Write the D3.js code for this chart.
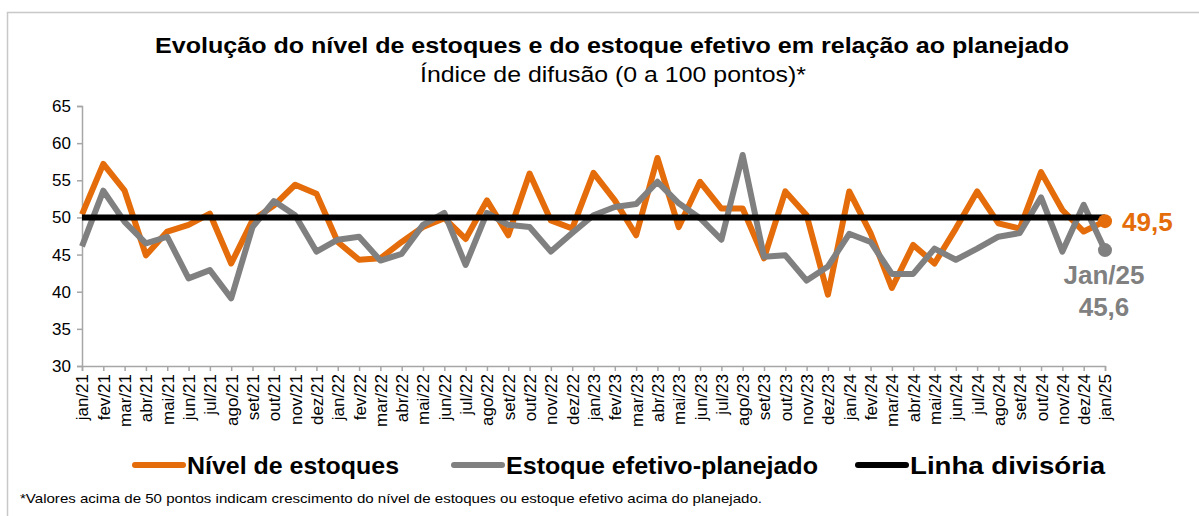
<!DOCTYPE html>
<html>
<head>
<meta charset="utf-8">
<script src="https://cdn.jsdelivr.net/npm/d3@7"></script>
<style>
  body { margin: 0; background: #fff; }
  svg text { font-family: "Liberation Sans", Arial, sans-serif; }
</style>
</head>
<body>
<div id="chart"></div>
<script>
// months, jan/21 .. jan/25
var months = ["jan/21","fev/21","mar/21","abr/21","mai/21","jun/21","jul/21","ago/21","set/21","out/21","nov/21","dez/21",
  "jan/22","fev/22","mar/22","abr/22","mai/22","jun/22","jul/22","ago/22","set/22","out/22","nov/22","dez/22",
  "jan/23","fev/23","mar/23","abr/23","mai/23","jun/23","jul/23","ago/23","set/23","out/23","nov/23","dez/23",
  "jan/24","fev/24","mar/24","abr/24","mai/24","jun/24","jul/24","ago/24","set/24","out/24","nov/24","dez/24",
  "jan/25"];

// Nivel de estoques
var nivel = [50.4, 57.2, 53.6, 44.9, 48.1, 49.0, 50.5, 43.8, 49.6, 51.6, 54.4, 53.2,
  46.7, 44.3, 44.5, 46.7, 48.7, 49.9, 47.1, 52.3, 47.6, 55.9, 49.6, 48.5,
  56.0, 52.3, 47.6, 58.0, 48.7, 54.8, 51.2, 51.2, 44.5, 53.5, 50.3, 39.6,
  53.5, 47.9, 40.5, 46.3, 43.8, 48.5, 53.5, 49.2, 48.5, 56.1, 51.0, 48.1,
  49.5];

// Estoque efetivo-planejado
var efetivo = [46.1, 53.6, 49.4, 46.5, 47.4, 41.8, 42.9, 39.1, 48.7, 52.2, 50.3, 45.4,
  47.0, 47.4, 44.2, 45.1, 49.0, 50.6, 43.6, 50.6, 49.0, 48.7, 45.4, 47.9,
  50.3, 51.4, 51.8, 54.8, 51.9, 49.9, 47.0, 58.4, 44.7, 44.9, 41.5, 43.4,
  47.8, 46.7, 42.4, 42.4, 45.8, 44.3, 45.8, 47.4, 47.9, 52.7, 45.4, 51.7,
  45.6];

var divisoria = 50;
var yTicks = [30, 35, 40, 45, 50, 55, 60, 65];

var W = 1199, H = 516;
var margin = {top: 106, right: 94, bottom: 150, left: 82},
    width = W - margin.left - margin.right,
    height = H - margin.top - margin.bottom;

var svg = d3.select("#chart").append("svg")
    .attr("width", W)
    .attr("height", H);

// outer frame
svg.append("rect")
    .attr("x", 7.5).attr("y", 12.5)
    .attr("width", W).attr("height", H)
    .attr("fill", "none")
    .attr("stroke", "#c8c8c8")
    .attr("stroke-width", 1.5);

// titles
svg.append("text")
    .attr("x", 155).attr("y", 53)
    .style("font-weight", "bold").style("font-size", "22px")
    .attr("textLength", 914).attr("lengthAdjust", "spacingAndGlyphs")
    .text("Evolução do nível de estoques e do estoque efetivo em relação ao planejado");
svg.append("text")
    .attr("x", 420).attr("y", 82)
    .style("font-size", "22px")
    .attr("textLength", 386).attr("lengthAdjust", "spacingAndGlyphs")
    .text("Índice de difusão (0 a 100 pontos)*");

var g = svg.append("g")
    .attr("transform", "translate(" + margin.left + "," + margin.top + ")");

// scales
var x = d3.scalePoint().domain(months).range([0, width]);
var y = d3.scaleLinear().domain([30, 65]).range([height, 0]);

// axes
var yAxis = g.append("g")
    .call(d3.axisLeft(y).tickValues(yTicks).tickSize(5).tickPadding(6));
yAxis.selectAll("text").style("font-size", "17px").attr("fill", "#000");

var xAxis = g.append("g")
    .attr("transform", "translate(0," + height + ")")
    .call(d3.axisBottom(x).tickSize(5).tickPadding(4));
xAxis.selectAll("text")
    .style("font-size", "17px").attr("fill", "#000")
    .attr("text-anchor", "end")
    .attr("dy", "0.35em")
    .attr("transform", "rotate(-90)")
    .attr("x", -8).attr("y", 0);

g.selectAll(".domain, .tick line").attr("stroke", "#a6a6a6").attr("stroke-width", 1.5);

// lines
var line = function(vals) {
  return d3.line()
    .x(function(d, i) { return x(months[i]); })
    .y(function(d) { return y(d); })(vals);
};

g.append("path")
    .attr("d", line(nivel))
    .attr("fill", "none").attr("stroke", "#e46c0a")
    .attr("stroke-width", 6).attr("stroke-linejoin", "round");

g.append("path")
    .attr("d", line(efetivo))
    .attr("fill", "none").attr("stroke", "#808080")
    .attr("stroke-width", 6).attr("stroke-linejoin", "round");

g.append("path")
    .attr("d", line(months.map(function() { return divisoria; })))
    .attr("fill", "none").attr("stroke", "#000")
    .attr("stroke-width", 6);

// end markers
var last = months.length - 1;
g.append("circle")
    .attr("cx", x(months[last])).attr("cy", y(nivel[last]))
    .attr("r", 7).attr("fill", "#e46c0a");
g.append("circle")
    .attr("cx", x(months[last])).attr("cy", y(efetivo[last]))
    .attr("r", 7).attr("fill", "#808080");

var fmt = function(v) { return d3.format(".1f")(v).replace(".", ","); };

g.append("text")
    .attr("x", x(months[last]) + 17).attr("y", y(nivel[last]) + 10)
    .attr("fill", "#e46c0a")
    .style("font-weight", "bold").style("font-size", "26px")
    .text(fmt(nivel[last]));
g.append("text")
    .attr("x", x(months[last]) - 1).attr("y", y(efetivo[last]) + 34)
    .attr("text-anchor", "middle").attr("fill", "#808080")
    .style("font-weight", "bold").style("font-size", "26px")
    .text("Jan/25");
g.append("text")
    .attr("x", x(months[last]) - 1).attr("y", y(efetivo[last]) + 66)
    .attr("text-anchor", "middle").attr("fill", "#808080")
    .style("font-weight", "bold").style("font-size", "26px")
    .text(fmt(efetivo[last]));

// legend
var legend = [
  {name: "Nível de estoques", color: "#e46c0a", x: 132, w: 212},
  {name: "Estoque efetivo-planejado", color: "#808080", x: 451, w: 312},
  {name: "Linha divisória", color: "#000", x: 855, w: 195}
];
var lg = svg.selectAll(".legend").data(legend).enter().append("g")
    .attr("class", "legend")
    .attr("transform", function(d) { return "translate(" + d.x + ",465)"; });
lg.append("line")
    .attr("x1", 3).attr("x2", 51)
    .attr("stroke", function(d) { return d.color; })
    .attr("stroke-width", 6).attr("stroke-linecap", "round");
lg.append("text")
    .attr("x", 55).attr("y", 9)
    .style("font-weight", "bold").style("font-size", "24px")
    .attr("textLength", function(d) { return d.w; })
    .attr("lengthAdjust", "spacingAndGlyphs")
    .text(function(d) { return d.name; });

// footnote
svg.append("text")
    .attr("x", 20).attr("y", 503)
    .style("font-size", "13px")
    .attr("textLength", 742).attr("lengthAdjust", "spacingAndGlyphs")
    .text("*Valores acima de 50 pontos indicam crescimento do nível de estoques ou estoque efetivo acima do planejado.");
</script>
</body>
</html>
